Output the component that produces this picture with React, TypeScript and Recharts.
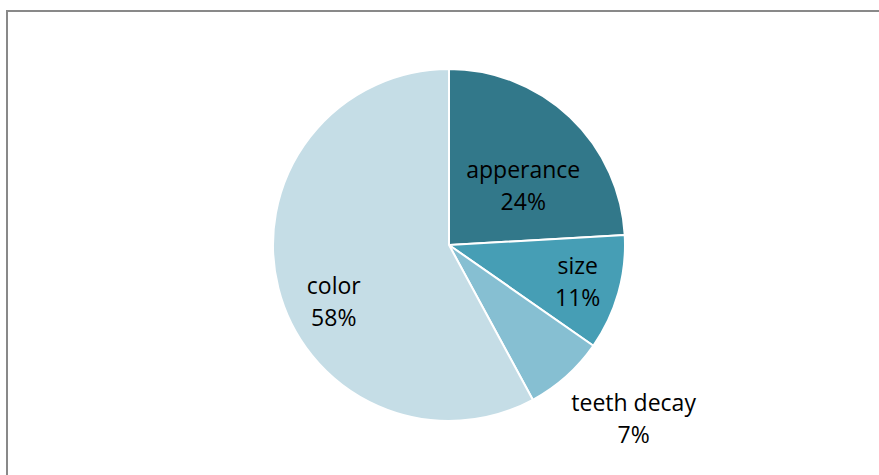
import { PieChart, Pie, Cell } from 'recharts';

const categories = ['apperance', 'size', 'teeth decay', 'color'];
const shares = [24.1, 10.6, 7.4, 57.9];
const shareLabels = [24, 11, 7, 58];
const sliceColors = ['#32788A', '#469EB5', '#86BFD2', '#C5DDE6'];

const data = categories.map((name, i) => ({ name, value: shares[i], label: shareLabels[i] }));

// label placement tweaks (radius factor, clockwise angle shift in degrees)
const LABEL_R = [0.54, 0.76, 1.44, 0.73];
const LABEL_SHIFT = [8, 0, -5, -12];

const RAD = Math.PI / 180;

function SliceLabel({ cx, cy, midAngle, outerRadius, index }: any) {
    const r = outerRadius * LABEL_R[index];
    const a = (midAngle - LABEL_SHIFT[index]) * RAD;
    const x = cx + r * Math.cos(a);
    const y = cy - r * Math.sin(a);
    return (
        <text
            x={x}
            y={y}
            fill="#000"
            fontSize={23}
            fontFamily="'Open Sans', sans-serif"
            textAnchor="middle"
        >
            <tspan x={x} dy={-8}>{data[index].name}</tspan>
            <tspan x={x} dy={32}>{data[index].label}%</tspan>
        </text>
    );
}

export default function App() {
    return (
        <div style={{ position: 'absolute', left: 0, top: 0, width: 879, height: 475, overflow: 'hidden', background: '#fff' }}>
            <div
                style={{
                    position: 'absolute', left: 6, top: 10, width: 900, height: 500,
                    borderLeft: '2px solid #898989', borderTop: '2px solid #898989',
                }}
            />
            <div style={{ position: 'absolute', left: 0, top: 0 }}>
                <PieChart width={879} height={475} margin={{ top: 0, right: 0, bottom: 0, left: 0 }}>
                    <Pie
                        data={data}
                        dataKey="value"
                        cx={449}
                        cy={245}
                        outerRadius={176}
                        startAngle={90}
                        endAngle={-270}
                        stroke="#fff"
                        strokeWidth={2}
                        label={SliceLabel}
                        labelLine={false}
                        isAnimationActive={false}
                    >
                        {data.map((d, i) => (
                            <Cell key={d.name} fill={sliceColors[i]} />
                        ))}
                    </Pie>
                </PieChart>
            </div>
        </div>
    );
}
